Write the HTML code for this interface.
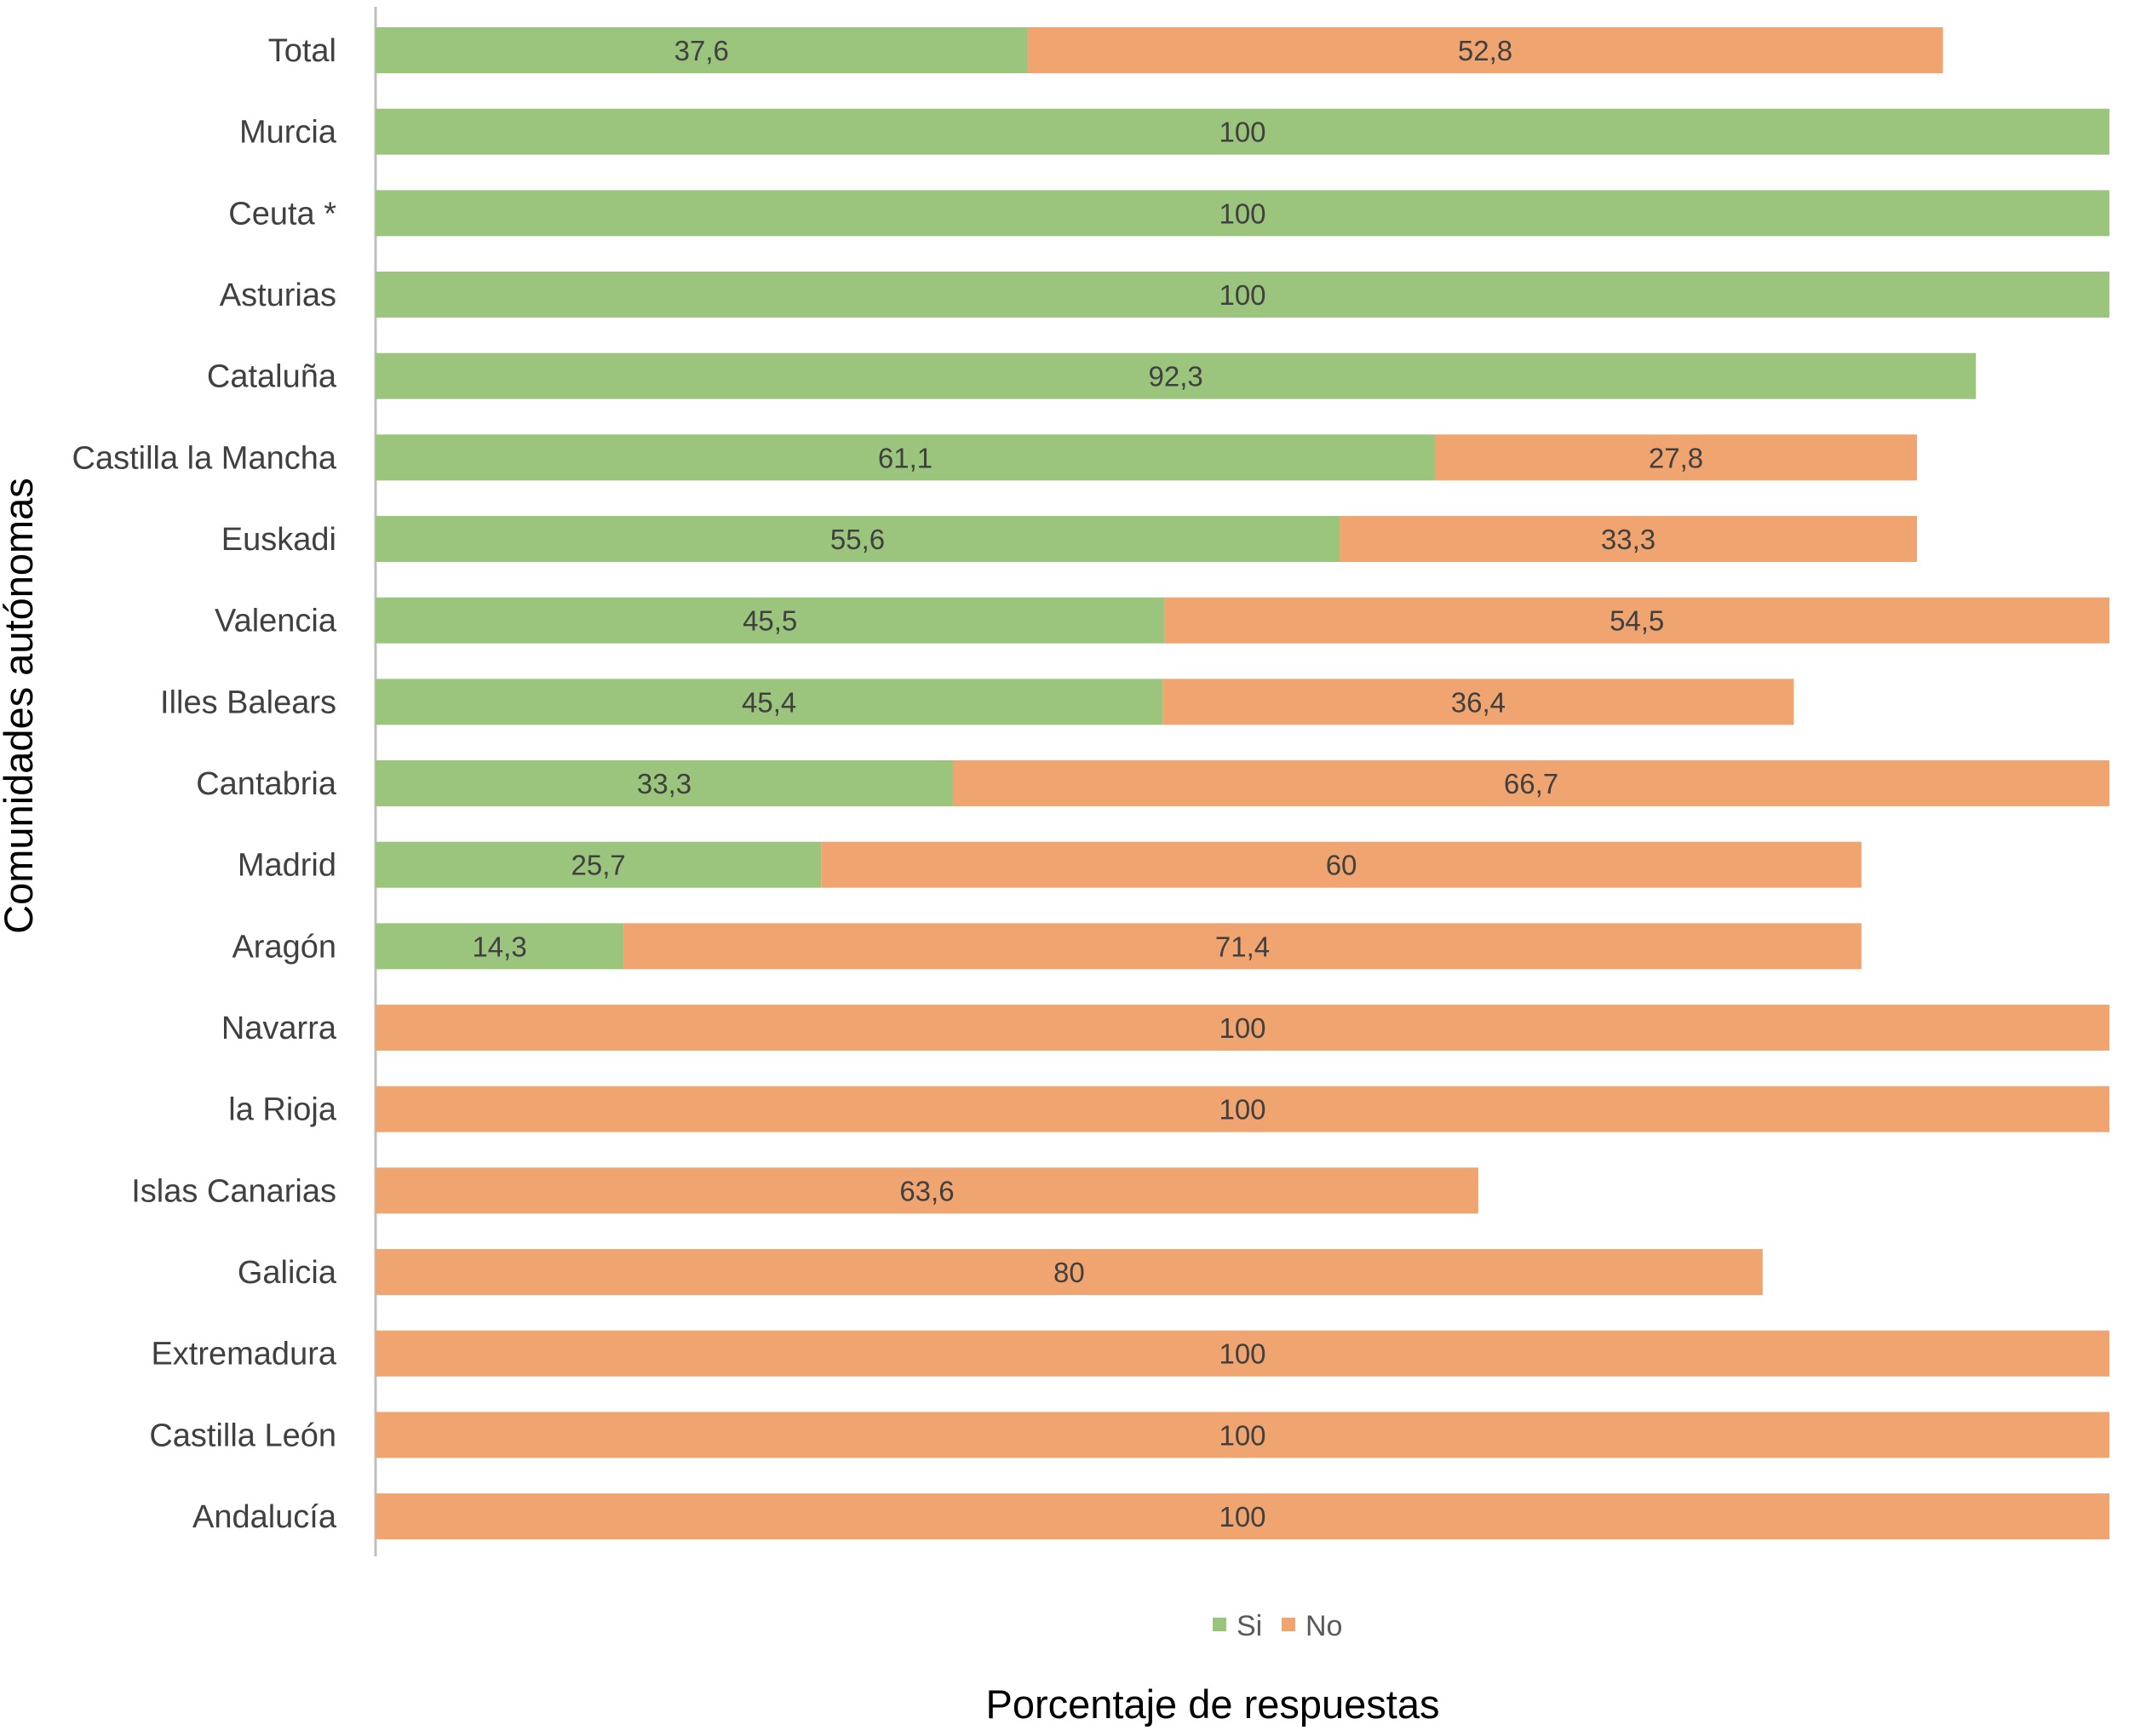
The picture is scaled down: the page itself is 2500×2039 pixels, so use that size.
<!DOCTYPE html>
<html><head><meta charset="utf-8"><style>
body{margin:0;background:#fff;}
svg text{font-family:"Liberation Sans Narrow","Liberation Sans",sans-serif;}
</style></head><body>
<svg id="chart" width="2500" height="2034" viewBox="0 0 2500 2034" xmlns="http://www.w3.org/2000/svg">
<line x1="441" y1="8" x2="441" y2="1828" stroke="#bfbfbf" stroke-width="3"/>
<g id="bars"></g>
<text transform="translate(38,829) rotate(-90)" text-anchor="middle" font-size="47" fill="#000" style="font-family:'Liberation Sans',sans-serif">Comunidades autónomas</text>
<text x="1424" y="2018" text-anchor="middle" font-size="47" fill="#000" style="font-family:'Liberation Sans',sans-serif">Porcentaje de respuestas</text>
<g>
<rect x="1424" y="1900" width="16" height="16" fill="#9bc57d"/>
<text x="1452" y="1921" font-size="34" fill="#595959">Si</text>
<rect x="1505" y="1900" width="16" height="16" fill="#f0a470"/>
<text x="1533" y="1921" font-size="34" fill="#595959">No</text>
</g>
</svg>
<script>
const categories=["Total","Murcia","Ceuta *","Asturias","Cataluña","Castilla la Mancha","Euskadi","Valencia","Illes Balears","Cantabria","Madrid","Aragón","Navarra","la Rioja","Islas Canarias","Galicia","Extremadura","Castilla León","Andalucía"];
const siValues=[37.6,100,100,100,92.3,61.1,55.6,45.5,45.4,33.3,25.7,14.3,0,0,0,0,0,0,0];
const noValues=[52.8,0,0,0,0,27.8,33.3,54.5,36.4,66.7,60,71.4,100,100,63.6,80,100,100,100];
const ns="http://www.w3.org/2000/svg";
const g=document.getElementById('bars');
function xScale(v){return 441+v*20.36;}
function yScale(i){return 59+i*95.67;}
const barH=54;
function fmt(v){return String(v).replace('.',',');}
function mk(tag,attrs){const e=document.createElementNS(ns,tag);for(const k in attrs)e.setAttribute(k,attrs[k]);g.appendChild(e);return e;}
categories.forEach((c,i)=>{
  const yc=yScale(i);
  const t=mk('text',{x:395,y:yc+13,'text-anchor':'end','font-size':38,fill:'#404040',style:"font-family:'Liberation Sans',sans-serif"});
  
  
  t.textContent=c;
  let start=0;
  [[siValues[i],'#9bc57d','bar-si'],[noValues[i],'#f0a470','bar-no']].forEach(([v,col,name])=>{
    if(v<=0)return;
    const x0=xScale(start),x1=xScale(start+v);
    const r=mk('rect',{x:x0,y:yc-barH/2,width:x1-x0,height:barH,fill:col});
    
    
    const lt=mk('text',{x:(x0+x1)/2,y:yc+12,'text-anchor':'middle','font-size':33,fill:'#404040'});
    
    
    lt.textContent=fmt(v);
    start+=v;
  });
});
</script>
</body></html>
